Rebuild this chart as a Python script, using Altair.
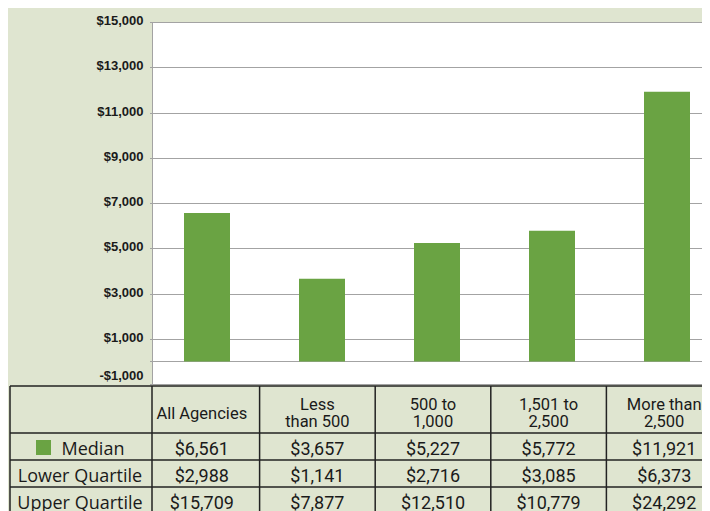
import altair as alt
import pandas as pd

# ---- data ----
GROUPS = ["All Agencies", "Less than 500", "500 to 1,000", "1,501 to 2,500", "More than 2,500"]
HEADERS = ["All Agencies", "Less\nthan 500", "500 to\n1,000", "1,501 to\n2,500", "More than\n2,500"]
MEDIAN = [6561, 3657, 5227, 5772, 11921]
LOWER = [2988, 1141, 2716, 3085, 6373]
UPPER = [15709, 7877, 12510, 10779, 24292]
ROWS = ["Median", "Lower Quartile", "Upper Quartile"]
Y_TICKS = [-1000, 0, 1000, 3000, 5000, 7000, 9000, 11000, 13000, 15000]

# ---- styles ----
GREEN = "#6aa343"
BG = "#dfe5d0"
LINE = "#222222"
TEXT = "#1a1a1a"
GRID = "#a3a3a3"

bars_df = pd.DataFrame({"group": GROUPS, "median": MEDIAN})
cells_df = pd.DataFrame(
    [
        {"group": g, "row": r, "value": v}
        for r, vals in zip(ROWS, [MEDIAN, LOWER, UPPER])
        for g, v in zip(GROUPS, vals)
    ]
)
cells_df["label"] = cells_df["value"].map(lambda v: f"${v:,}")
header_df = pd.DataFrame({"group": GROUPS, "header": HEADERS})
header_df["lines"] = header_df["header"].str.count("\n") + 1
rows_df = pd.DataFrame({"row": ROWS})
inner_df = pd.DataFrame({"group": GROUPS[1:]})
one_df = pd.DataFrame({"k": [0]})

bar_x = alt.Scale(domain=GROUPS, range=[-2.5, 572.5], paddingInner=0.6, paddingOuter=0.3)
y_scale = alt.Scale(domain=[-1000, 15000], nice=False)
tab_x = alt.Scale(domain=GROUPS, range=[-8, 570], paddingInner=0, paddingOuter=0)
tab_y = alt.Scale(domain=ROWS, range=[411, 492], paddingInner=0, paddingOuter=0)

label_expr = (
    "datum.value == 0 ? '' : (datum.value < 0 ? '-$' + format(-datum.value, ',') "
    ": '$' + format(datum.value, ','))"
)

bars = alt.Chart(bars_df).mark_bar(color=GREEN).encode(
    x=alt.X("group:N", sort=GROUPS, scale=bar_x, axis=None),
    y=alt.Y(
        "median:Q",
        scale=y_scale,
        axis=alt.Axis(
            values=Y_TICKS,
            labelExpr=label_expr,
            grid=True,
            gridColor=GRID,
            gridWidth=1,
            ticks=False,
            domain=True,
            domainColor=GRID,
            labelFont="Liberation Sans",
            labelFontWeight="bold",
            labelFontSize=13,
            labelColor=TEXT,
            labelPadding=9,
            labelOffset=-1.5,
            labelBaseline=alt.condition("datum.value < 0", alt.value("bottom"), alt.value("middle")),
            title=None,
        ),
    ),
)

rule_style = dict(color=LINE, strokeWidth=1.5)

hlines = alt.Chart(rows_df).mark_rule(**rule_style).encode(
    y=alt.Y("row:N", scale=tab_y, bandPosition=0, axis=None),
    x=alt.value(-142),
    x2=alt.value(560),
)
top_border = alt.Chart(one_df).mark_rule(**rule_style).encode(
    y=alt.value(364), x=alt.value(-142), x2=alt.value(560)
)
vlines = alt.Chart(inner_df).mark_rule(**rule_style).encode(
    x=alt.X("group:N", scale=tab_x, bandPosition=0, axis=None),
    y=alt.value(364),
    y2=alt.value(500),
)
left_border = alt.Chart(one_df).mark_rule(**rule_style).encode(
    x=alt.value(-142), y=alt.value(364), y2=alt.value(500)
)
label_border = alt.Chart(one_df).mark_rule(**rule_style).encode(
    x=alt.value(0), y=alt.value(364), y2=alt.value(500)
)

header_style = dict(font="Roboto", fontSize=16.5, lineBreak="\n", lineHeight=17.5,
                    baseline="middle", color=TEXT)
headers_one = alt.Chart(header_df).transform_filter(alt.datum.lines == 1).mark_text(
    **header_style
).encode(
    x=alt.X("group:N", scale=tab_x, axis=None),
    y=alt.value(391.5),
    text="header:N",
)
headers_two = alt.Chart(header_df).transform_filter(alt.datum.lines == 2).mark_text(
    **header_style
).encode(
    x=alt.X("group:N", scale=tab_x, axis=None),
    y=alt.value(382.8),
    text="header:N",
)

cells = alt.Chart(cells_df).mark_text(
    font="Roboto", fontSize=18, dy=3.5, baseline="middle", color=TEXT
).encode(
    x=alt.X("group:N", scale=tab_x, axis=None),
    y=alt.Y("row:N", scale=tab_y, axis=None),
    text="label:N",
)

label_style = dict(font="Open Sans", fontSize=18, dy=3.5, baseline="middle", color=TEXT)
row_labels = alt.Chart(rows_df).transform_filter(alt.datum.row != "Median").mark_text(
    **label_style
).encode(
    x=alt.value(-72),
    y=alt.Y("row:N", scale=tab_y, axis=None),
    text="row:N",
)
median_label = alt.Chart(rows_df).transform_filter(alt.datum.row == "Median").mark_text(
    **label_style
).encode(
    x=alt.value(-59),
    y=alt.Y("row:N", scale=tab_y, axis=None),
    text="row:N",
)
swatch = alt.Chart(rows_df).transform_filter(alt.datum.row == "Median").mark_square(
    size=225, color=GREEN, opacity=1, filled=True, yOffset=1
).encode(
    x=alt.value(-108.5),
    y=alt.Y("row:N", scale=tab_y, axis=None),
)

chart = (
    alt.layer(
        bars, hlines, top_border, vlines, left_border, label_border,
        headers_one, headers_two, cells, row_labels, median_label, swatch,
    )
    .resolve_scale(x="independent", y="independent")
    .properties(
        width=550,
        height=362,
        padding={"left": 144, "top": 14, "right": 0, "bottom": 127},
        autosize=alt.AutoSizeParams(type="none"),
        background=BG,
    )
    .configure_view(fill="white", stroke=None)
)

chart.save("out.html", embed_options={"renderer": "svg", "actions": False})
